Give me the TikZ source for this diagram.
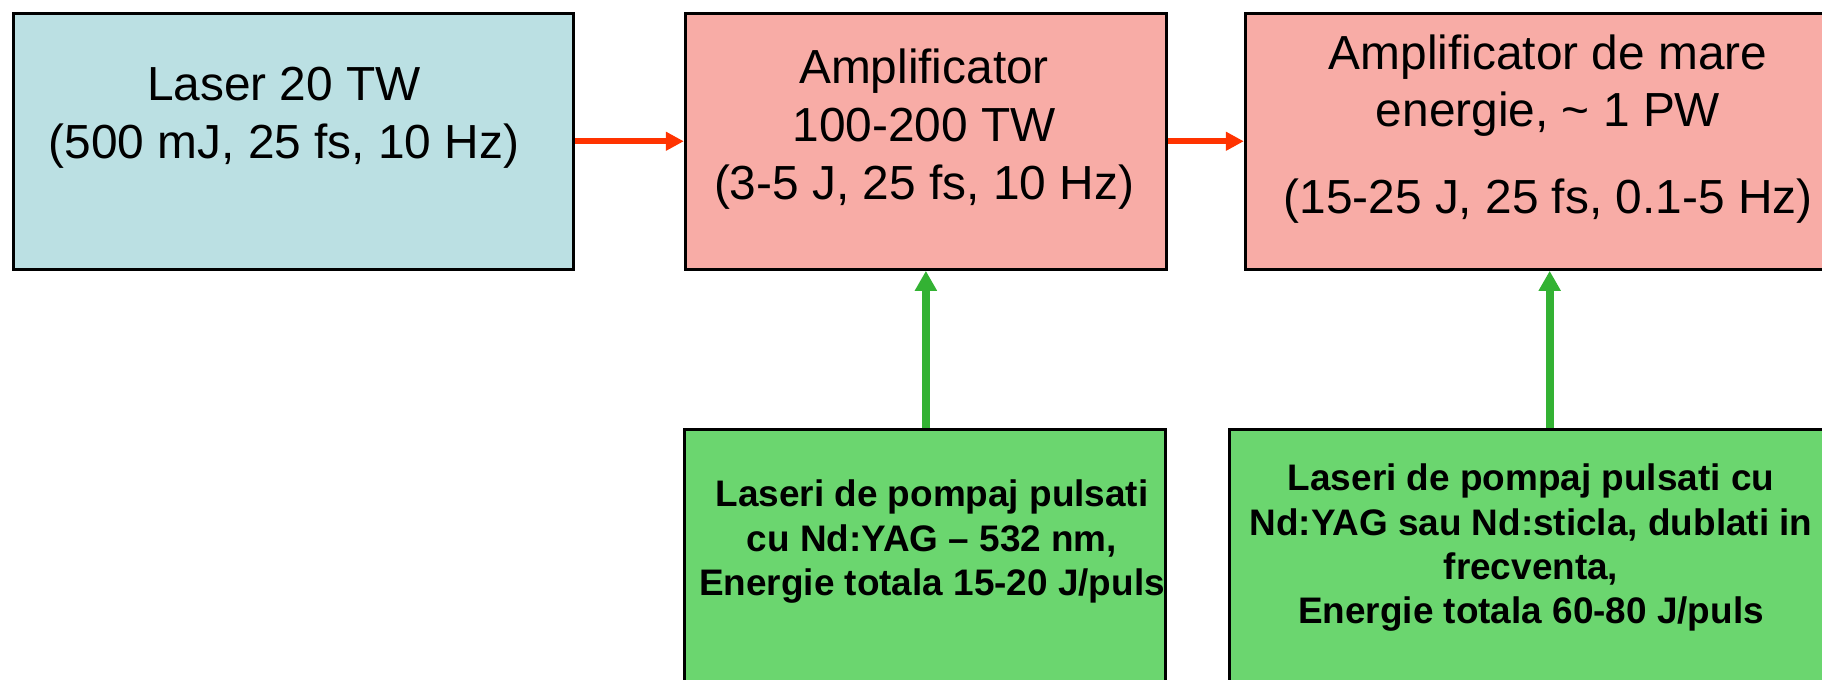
\documentclass[tikz,border=0pt]{standalone}
\usepackage{fontspec}
\setmainfont{Liberation Sans}
\usetikzlibrary{arrows.meta}
\definecolor{laserblue}{RGB}{187,224,227}
\definecolor{amppink}{RGB}{248,172,166}
\definecolor{pumpgreen}{RGB}{107,214,111}
\definecolor{beamred}{RGB}{255,51,0}
\definecolor{pumparrow}{RGB}{51,178,51}
\begin{document}
\begin{tikzpicture}[x=0.01cm, y=-0.01cm,
        stage/.style={draw, line width=0.85pt, anchor=north west, inner sep=0pt},
        bigtext/.style={align=center, anchor=north, inner sep=0pt, font=\fontsize{13.6}{16.4}\selectfont},
        pumptext/.style={align=center, anchor=north, inner sep=0pt, font=\fontsize{10.5}{12.6}\selectfont\bfseries},
        beam/.style={beamred, line width=1.7pt, -{Triangle[length=1.8mm,width=1.8mm]}},
        pump/.style={pumparrow, line width=2.3pt, -{Triangle[length=2mm,width=2.1mm]}}]
    \useasboundingbox (0,0) rectangle (1822,679);
    \clip (0,0) rectangle (1822,679);
    % stages of the chain
    \node[stage, fill=laserblue, minimum width=5.604cm, minimum height=2.56cm] (laser) at (11.6,11.7) {};
    \node[stage, fill=amppink, minimum width=4.809cm, minimum height=2.56cm] (amp) at (683.8,11.7) {};
    \node[stage, fill=amppink, minimum width=6.084cm, minimum height=2.56cm] (hpa) at (1243.8,11.7) {};
    % pump lasers
    \node[stage, fill=pumpgreen, minimum width=4.805cm, minimum height=3cm] (pump1) at (683.3,427.7) {};
    \node[stage, fill=pumpgreen, minimum width=6.064cm, minimum height=3cm] (pump2) at (1227.8,427.7) {};
    % texts
    \node[bigtext] (laserlbl) at (284,59.7) {\strut Laser 20 TW\\(500 mJ, 25 fs, 10 Hz)};
    \node[bigtext] (amplbl) at (924,42.7) {\strut Amplificator\\100-200 TW\\(3-5 J, 25 fs, 10 Hz)};
    \node[bigtext] (hpalbl) at (1548,28) {\strut Amplificator de mare\\energie, \textasciitilde{} 1 PW\\[8.3pt](15-25 J, 25 fs, 0.1-5 Hz)};
    \node[pumptext] (pump1lbl) at (932,475) {\strut Laseri de pompaj pulsati\\cu Nd:YAG – 532 nm,\\Energie totala 15-20 J/puls};
    \node[pumptext] (pump2lbl) at (1531,459) {\strut Laseri de pompaj pulsati cu\\Nd:YAG sau Nd:sticla, dublati in\\frecventa,\\Energie totala 60-80 J/puls};
    % beams
    \draw[beam] (laser.east) -- (amp.west);
    \draw[beam] (amp.east) -- (hpa.west);
    \draw[pump] (amp.south |- pump1.north) -- (amp.south);
    \draw[pump] (hpa.south |- pump2.north) -- (hpa.south);
\end{tikzpicture}
\end{document}
